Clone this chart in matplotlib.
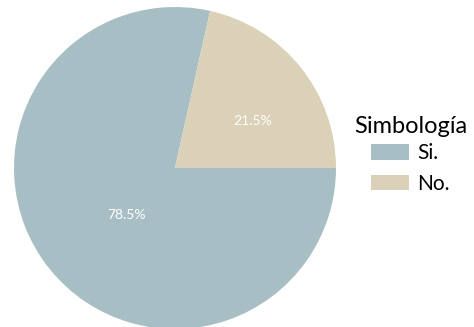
import matplotlib
matplotlib.use("Agg")
from matplotlib import pyplot as plt

plt.rcParams["font.family"] = ["Lato", "DejaVu Sans"]

labels = ["Si.", "No."]
values = [78.5, 21.5]
colors = ["#a7bfc4", "#dbd1b8"]

fig = plt.figure(figsize=(4.74, 3.27), dpi=100)
ax = fig.add_axes([14 / 474, -2 / 327, 322 / 474, 322 / 327])

wedges, texts, autotexts = ax.pie(values, colors=colors, startangle=0,
                                  counterclock=False, autopct="%.1f%%",
                                  textprops={"color": "white", "fontsize": 10})
ax.set_xlim(-1, 1)
ax.set_ylim(-1, 1)
ax.set_aspect("equal")

# label spots inside the slices
autotexts[0].set_position((-0.30, -0.29))
autotexts[1].set_position((0.48, 0.29))

leg = fig.legend(wedges, labels, title="Simbología", loc="upper left",
                 bbox_to_anchor=(335 / 474, 1 - 93 / 327), frameon=False,
                 fontsize=15, title_fontsize=17, handlelength=1.85,
                 handleheight=0.75, labelspacing=0.5, handletextpad=0.4)
leg.get_title().set_position((0, -4))

fig.savefig("out.png", dpi=100)
